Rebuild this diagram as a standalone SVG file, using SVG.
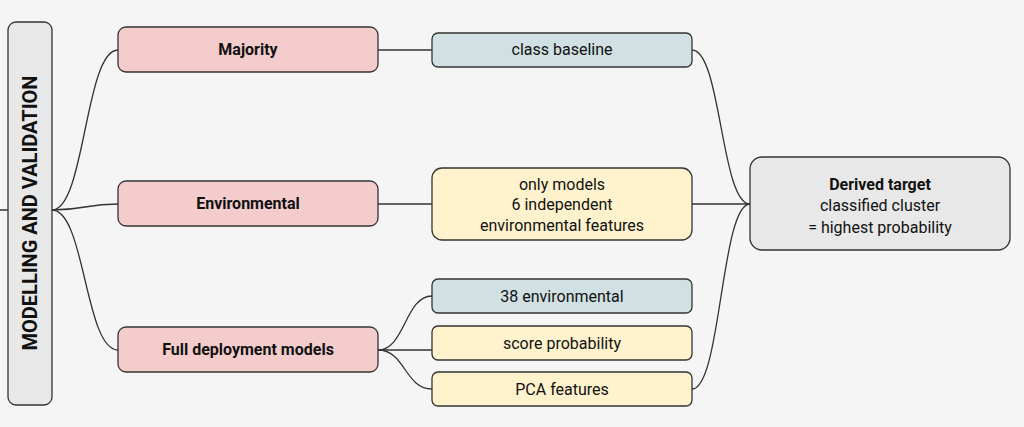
<svg xmlns="http://www.w3.org/2000/svg" width="1024" height="427" viewBox="0 0 1024 427">
<style>
.n{stroke:#333;stroke-width:1.3}
.r{fill:#f4cccc}.b{fill:#d0e0e3}.y{fill:#fff2cc}.g{fill:#e8e8e8}
text{font-family:Roboto,"Liberation Sans",sans-serif;font-size:16px;fill:#111;text-anchor:middle}
.bd{font-weight:bold}
#connectors path{fill:none;stroke:#333;stroke-width:1.3}
</style>
<rect width="1024" height="427" fill="#f5f5f5"/>
<g id="connectors">
<path d="M0 210H52"/>
<path d="M52 210C85 210 85 50 118 50"/>
<path d="M52 210C85 210 85 204 118 204"/>
<path d="M52 210C85 210 85 350 118 350"/>
<path d="M378 50H432"/>
<path d="M378 204H432"/>
<path d="M378 350C405 350 405 296 432 296"/>
<path d="M378 350H432"/>
<path d="M378 350C405 350 405 389 432 389"/>
<path d="M692 50C721 50 721 204 750 204"/>
<path d="M692 204H750"/>
<path d="M692 389C721 389 721 204 750 204"/>
</g>
<g id="root"><rect class="n g" x="8" y="22" width="44" height="383" rx="8"/>
<text class="bd" font-size="20" transform="translate(37 213) rotate(-90)" style="font-size:20px">MODELLING AND VALIDATION</text></g>
<g id="majority"><rect class="n r" x="118" y="27" width="260" height="45" rx="8"/><text class="bd" x="248" y="55">Majority</text></g>
<g id="environmental"><rect class="n r" x="118" y="181" width="260" height="45" rx="8"/><text class="bd" x="248" y="209">Environmental</text></g>
<g id="full"><rect class="n r" x="118" y="327" width="260" height="45" rx="8"/><text class="bd" x="248" y="355">Full deployment models</text></g>
<g id="baseline"><rect class="n b" x="432" y="33" width="260" height="34" rx="6"/><text x="562" y="55">class baseline</text></g>
<g id="onlymodels"><rect class="n y" x="432" y="168" width="260" height="72" rx="10"/><text x="562" y="190">only models</text><text x="562" y="210">6 independent</text><text x="562" y="231">environmental features</text></g>
<g id="env38"><rect class="n b" x="432" y="279" width="260" height="34" rx="6"/><text x="562" y="302">38 environmental</text></g>
<g id="score"><rect class="n y" x="432" y="326" width="260" height="34" rx="6"/><text x="562" y="349">score probability</text></g>
<g id="pca"><rect class="n y" x="432" y="372" width="260" height="34" rx="6"/><text x="562" y="395">PCA features</text></g>
<g id="derived"><rect class="n g" x="750" y="157" width="260" height="93" rx="12"/><text class="bd" x="880" y="190">Derived target</text><text x="880" y="211">classified cluster</text><text x="880" y="233">= highest probability</text></g>
</svg>
